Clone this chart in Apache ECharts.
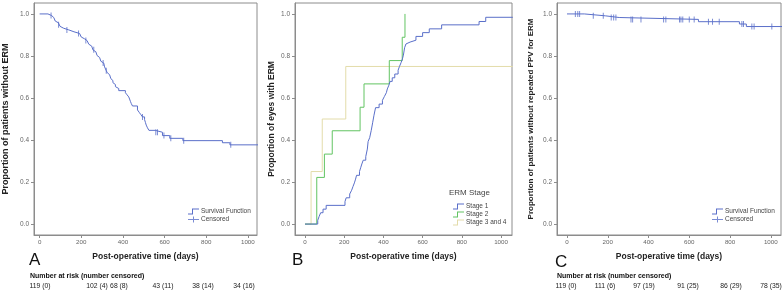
<!DOCTYPE html>
<html>
<head>
<meta charset="utf-8">
<script src="https://cdn.jsdelivr.net/npm/echarts@6/dist/echarts.min.js"></script>
<style>
html, body { margin: 0; padding: 0; background: #fff; }
#chart { width: 784px; height: 292px; }
</style>
</head>
<body>
<div id="chart"></div>
<script>
// ---- data ----
var xTicks = [0, 200, 400, 600, 800, 1000];
var yTicks = [0, 0.2, 0.4, 0.6, 0.8, 1.0];

// A: proportion of patients without ERM (Kaplan-Meier, [days, value])
var survA = [[0,1.0],[40,0.992],[58,0.983],[68,0.975],[75,0.966],[82,0.958],[90,0.949],[98,0.941],
  [105,0.932],[115,0.924],[140,0.915],[165,0.907],[192,0.899],[200,0.89],[208,0.882],[215,0.873],
  [228,0.864],[236,0.856],[243,0.847],[250,0.838],[256,0.829],[262,0.82],[270,0.811],[276,0.802],
  [282,0.793],[288,0.784],[294,0.775],[300,0.766],[308,0.757],[312,0.748],[316,0.739],[320,0.73],
  [325,0.72],[330,0.711],[336,0.702],[342,0.692],[348,0.683],[352,0.673],[358,0.664],[364,0.654],
  [370,0.645],[380,0.635],[412,0.625],[420,0.615],[428,0.605],[432,0.595],[436,0.584],[440,0.574],
  [446,0.562],[470,0.543],[478,0.532],[486,0.521],[494,0.51],[504,0.497],[508,0.484],[512,0.471],
  [518,0.458],[525,0.446],[555,0.437],[590,0.421],[625,0.408],[688,0.397],[878,0.387],[914,0.377],
  [1060,0.377]];
var censA = [55, 91, 131, 187, 222, 260, 305, 320, 494, 558, 566, 597, 630, 692, 918];
var riskA = ['119 (0)', '102 (4)', '68 (8)', '43 (11)', '38 (14)', '34 (16)'];

// B: proportion of eyes with ERM by ERM stage
var stage1 = [[0,0],[65,0.018],[72,0.036],[80,0.054],[92,0.071],[108,0.089],[204,0.107],[210,0.125],
  [228,0.143],[238,0.161],[245,0.179],[252,0.196],[258,0.214],[263,0.232],[278,0.25],[284,0.268],
  [290,0.286],[297,0.304],[310,0.321],[318,0.357],[322,0.393],[330,0.411],[338,0.446],[345,0.482],
  [352,0.518],[360,0.554],[378,0.571],[395,0.589],[405,0.607],[415,0.625],[420,0.643],[428,0.661],
  [434,0.679],[445,0.696],[458,0.714],[475,0.732],[482,0.75],[490,0.768],[497,0.786],[502,0.804],
  [508,0.839],[515,0.857],[522,0.866],[536,0.875],[566,0.893],[600,0.911],[634,0.929],[697,0.948],
  [888,0.964],[922,0.984],[1060,0.984]];
var stage2 = [[0,0],[60,0.222],[99,0.333],[139,0.444],[281,0.556],[301,0.667],[430,0.778],[496,0.889],[510,1.0]];
var stage34 = [[0,0],[31,0.25],[88,0.5],[208,0.75],[1060,0.75]];

// C: proportion of patients without repeated PPV for ERM
var survC = [[0,1.0],[85,0.991],[188,0.983],[256,0.974],[645,0.963],[846,0.952],[880,0.94],[1060,0.94]];
var censC = [41, 53, 62, 129, 178, 217, 229, 240, 314, 322, 363, 474, 485, 552, 559, 568, 600, 624,
  694, 714, 747, 858, 866, 907, 918, 1005];
var riskC = ['119 (0)', '111 (6)', '97 (19)', '91 (25)', '86 (29)', '78 (35)'];

// ---- styling ----
var BLUE = '#5a6fc9', GREEN = '#62c462', BEIGE = '#e3dcaa';
var FRAME = '#8c8c8c';
var stepIcon = 'path://M0,10 H8 V0 H22 V2 H10 V12 H0 Z';
var censIcon = 'path://M0,5 H10 V0 H12 V5 H22 V7 H12 V12 H10 V7 H0 Z';
var tickMark = 'path://M0,0 H2 V12 H0 Z';

function levelAt(curve, t) {
  var v = curve[0][1];
  for (var i = 0; i < curve.length; i++) if (curve[i][0] <= t) v = curve[i][1];
  return v;
}

var chart = echarts.init(document.getElementById('chart'), null, { renderer: 'canvas' });

function xAxis(i, min, max) {
  return {
    gridIndex: i, type: 'value', min: min, max: max,
    name: 'Post-operative time (days)', nameLocation: 'middle', nameGap: 17,
    nameTextStyle: { fontFamily: 'Liberation Sans', fontWeight: 'bold', fontSize: 8.5, color: '#222' },
    axisLine: { show: true, onZero: false, lineStyle: { color: FRAME } },
    axisTick: { show: true, length: 3, customValues: xTicks, lineStyle: { color: FRAME } },
    axisLabel: { customValues: xTicks, fontFamily: 'Liberation Sans', fontSize: 6.2, color: '#666', margin: 4,
      formatter: function (v) { return String(v); } },
    splitLine: { show: false }
  };
}
function yAxis(i, name, gap, size) {
  return {
    gridIndex: i, type: 'value', min: -0.052, max: 1.052,
    name: name, nameLocation: 'middle', nameGap: gap,
    nameTextStyle: { fontFamily: 'Liberation Sans', fontWeight: 'bold', fontSize: size, color: '#222' },
    axisLine: { show: true, onZero: false, lineStyle: { color: FRAME } },
    axisTick: { show: true, length: 3, customValues: yTicks, lineStyle: { color: FRAME } },
    axisLabel: { customValues: yTicks, fontFamily: 'Liberation Sans', fontSize: 6.5, color: '#666', margin: 5,
      formatter: function (v) { return v.toFixed(1); } },
    splitLine: { show: false }
  };
}
function grid(left, width) {
  return { left: left, top: 3, width: width, height: 232, show: true, borderColor: FRAME, borderWidth: 1, backgroundColor: '#fff' };
}
function stepLine(name, data, color, i) {
  return { type: 'line', name: name, data: data, step: 'end', xAxisIndex: i, yAxisIndex: i,
    symbol: 'none', lineStyle: { width: 1, color: color }, itemStyle: { color: color }, animation: false };
}
function censored(curve, times, i) {
  return { type: 'scatter', name: 'Censored', xAxisIndex: i, yAxisIndex: i,
    data: times.map(function (t) { return [t, levelAt(curve, t)]; }),
    symbol: tickMark, symbolSize: [1, 6], itemStyle: { color: BLUE }, animation: false };
}
function legend(left, top, items) {
  return { left: left, top: top, orient: 'vertical', itemWidth: 11, itemHeight: 6, itemGap: 1, padding: 0,
    selectedMode: false, data: items,
    textStyle: { fontFamily: 'Liberation Sans', fontSize: 6.5, color: '#444', padding: [0, 0, 0, -3] } };
}
function riskRow(labels, xs) {
  return labels.map(function (s, k) {
    return { type: 'text', x: xs[k], y: 286, style: { text: s, textAlign: 'center', textVerticalAlign: 'middle',
      font: '6.8px "Liberation Sans", sans-serif', fill: '#222' } };
  });
}
var riskHead = { font: 'bold 7px "Liberation Sans", sans-serif', fill: '#111',
  textVerticalAlign: 'middle', text: 'Number at risk (number censored)' };

chart.setOption({
  backgroundColor: '#fff',
  animation: false,
  grid: [grid(33, 224), grid(295, 217), grid(557, 224)],
  xAxis: [xAxis(0, -27, 1044), xAxis(1, -51, 1056), xAxis(2, -49, 1050)],
  yAxis: [
    yAxis(0, 'Proportion of patients without ERM', 24, 9),
    yAxis(1, 'Proportion of eyes with ERM', 19, 8.5),
    yAxis(2, 'Proportion of patients without repeated PPV for ERM', 22, 8)
  ],
  title: [
    { text: 'A', left: 29, top: 252, padding: 0, textStyle: { fontFamily: 'Liberation Sans', fontSize: 17, fontWeight: 'normal', color: '#111' } },
    { text: 'B', left: 292, top: 252, padding: 0, textStyle: { fontFamily: 'Liberation Sans', fontSize: 17, fontWeight: 'normal', color: '#111' } },
    { text: 'C', left: 555, top: 254, padding: 0, textStyle: { fontFamily: 'Liberation Sans', fontSize: 17, fontWeight: 'normal', color: '#111' } },
    { text: 'ERM Stage', left: 449, top: 189, padding: 0, textStyle: { fontFamily: 'Liberation Sans', fontSize: 8, fontWeight: 'normal', color: '#444' } }
  ],
  legend: [
    legend(188, 208, [{ name: 'Survival Function', icon: stepIcon }, { name: 'Censored', icon: censIcon }]),
    legend(453, 203, [{ name: 'Stage 1', icon: stepIcon }, { name: 'Stage 2', icon: stepIcon }, { name: 'Stage 3 and 4', icon: stepIcon }]),
    legend(712, 208, [{ name: 'Survival Function', icon: stepIcon }, { name: 'Censored', icon: censIcon }])
  ],
  series: [
    stepLine('Survival Function', survA, BLUE, 0),
    censored(survA, censA, 0),
    stepLine('Stage 3 and 4', stage34, BEIGE, 1),
    stepLine('Stage 2', stage2, GREEN, 1),
    stepLine('Stage 1', stage1, BLUE, 1),
    stepLine('Survival Function', survC, BLUE, 2),
    censored(survC, censC, 2)
  ],
  graphic: [].concat(
    [{ type: 'text', x: 30, y: 276, style: riskHead },
     { type: 'text', x: 557, y: 276, style: riskHead }],
    riskRow(riskA, [40, 97, 119, 163, 203, 244]),
    riskRow(riskC, [566, 605, 644, 688, 731, 771])
  )
});
</script>
</body>
</html>
